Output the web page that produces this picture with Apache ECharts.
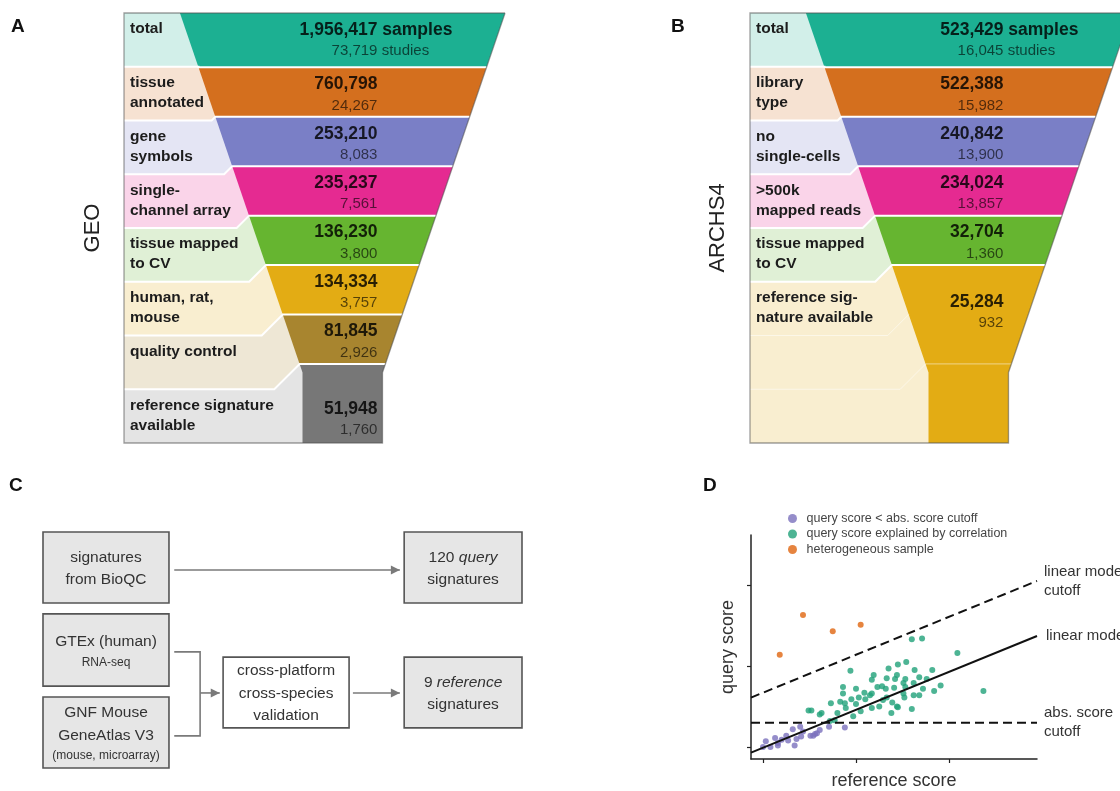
<!DOCTYPE html>
<html>
<head>
<meta charset="utf-8">
<script src="https://cdn.jsdelivr.net/npm/echarts@6/dist/echarts.min.js"></script>
<style>
  html, body { margin: 0; padding: 0; background: #fff; }
  #chart { width: 1120px; height: 791px; }
</style>
</head>
<body>
<div id="chart"></div>
<script>
// ---------- A: GEO sample filtering ----------
const geoStages = ['total', 'tissue\nannotated', 'gene\nsymbols', 'single-\nchannel array',
  'tissue mapped\nto CV', 'human, rat,\nmouse', 'quality control', 'reference signature\navailable'];
const geoSamples = [1956417, 760798, 253210, 235237, 136230, 134334, 81845, 51948];
const geoStudies = [73719, 24267, 8083, 7561, 3800, 3757, 2926, 1760];

// ---------- B: ARCHS4 sample filtering ----------
const archsStages = ['total', 'library\ntype', 'no\nsingle-cells', '>500k\nmapped reads',
  'tissue mapped\nto CV', 'reference sig-\nnature available'];
const archsSamples = [523429, 522388, 240842, 234024, 32704, 25284];
const archsStudies = [16045, 15982, 13900, 13857, 1360, 932];

const geoColors = ['#1cb092', '#d46f1e', '#7a7fc6', '#e52a91', '#66b530', '#e3ac14', '#a8852f', '#777777'];
const archsColors = ['#1cb092', '#d46f1e', '#7a7fc6', '#e52a91', '#66b530', '#e3ac14'];

// ---------- C: signature sources ----------
const flowTexts = [
  '{t|signatures}\n{t|from BioQC}',
  '{t|GTEx (human)}\n{s|RNA-seq}',
  '{t|GNF Mouse}\n{t|GeneAtlas V3}\n{s|(mouse, microarray)}',
  '{t|cross-platform}\n{t|cross-species}\n{t|validation}',
  '{t|120 }{i|query}\n{t|signatures}',
  '{t|9 }{i|reference}\n{t|signatures}'
];

// ---------- D: query vs reference score ----------
const belowCutoff = [[0.00,0.00],[0.03,0.07],[0.08,0.00],[0.13,0.11],[0.16,0.02],[0.16,0.05],[0.20,0.09],
  [0.25,0.14],[0.27,0.08],[0.34,0.02],[0.32,0.22],[0.36,0.10],[0.40,0.25],[0.41,0.13],[0.43,0.19],
  [0.51,0.14],[0.54,0.14],[0.56,0.16],[0.58,0.17],[0.61,0.21],[0.71,0.25],[0.88,0.24]];
const explainedByCorr = [[1.60,1.33],[1.71,1.34],[2.09,1.16],[0.94,0.94],[1.35,0.97],[1.45,1.02],[1.54,1.05],
  [1.63,0.95],[1.82,0.95],[1.44,0.89],[1.19,0.89],[1.17,0.83],[1.33,0.85],[1.42,0.84],[1.53,0.84],
  [1.68,0.86],[0.86,0.74],[1.00,0.72],[1.23,0.74],[1.28,0.75],[1.32,0.72],[1.41,0.73],[1.53,0.74],
  [1.62,0.79],[1.72,0.72],[1.91,0.76],[1.84,0.69],[1.62,0.64],[1.68,0.64],[1.51,0.66],[1.09,0.67],
  [0.86,0.66],[1.17,0.66],[0.73,0.54],[0.83,0.56],[0.89,0.48],[0.95,0.59],[1.00,0.53],[1.03,0.61],
  [1.10,0.59],[1.15,0.64],[1.05,0.44],[1.17,0.48],[1.25,0.50],[1.29,0.58],[1.33,0.61],[1.39,0.55],
  [1.44,0.50],[1.52,0.61],[1.60,0.47],[1.38,0.42],[0.97,0.38],[0.49,0.45],[0.52,0.45],[0.61,0.40],
  [0.63,0.42],[0.80,0.42],[0.72,0.32],[2.37,0.69],[1.76,0.84],[1.51,0.79],[1.45,0.49],[0.88,0.54],[0.77,0.33]];
const heterogeneous = [[0.18,1.14],[0.43,1.63],[0.75,1.43],[1.05,1.51]];
const linearModel = [[-0.129,-0.07],[2.946,1.37]];
const linearModelCutoff = [[-0.129,0.61],[2.946,2.05]];
const absScoreCutoff = [[-0.129,0.30],[2.946,0.30]];

// ---------- layout ----------
const FONT = '"Liberation Sans", Arial, Helvetica, sans-serif';
const SLOTS = 8;               // vertical rows shared by both funnels
const Y_MIN = -0.1, Y_MAX = 8.6;

// diagram boxes in percent of panel C: [x0, y0, x1, y1]
const flowBoxes = [[0,0,26.3,30.1],[0,34.7,26.3,65.3],[0,69.9,26.3,100],
  [37.6,53,63.9,83],[75.4,0,100,30.1],[75.4,53,100,83]];
const flowLinks = [
  { path: [[27.4,16.1],[74.5,16.1]], arrow: true },
  { path: [[27.4,50.8],[32.8,50.8],[32.8,86.4],[27.4,86.4]], arrow: false },
  { path: [[32.8,68.2],[36.9,68.2]], arrow: true },
  { path: [[64.7,68.2],[74.5,68.2]], arrow: true }
];

function tint(hex, a) {
  const n = parseInt(hex.slice(1), 16);
  const c = [(n >> 16) & 255, (n >> 8) & 255, n & 255].map(v => Math.round(255 - (255 - v) * a));
  return 'rgb(' + c.join(',') + ')';
}
const fmt = v => v.toLocaleString('en-US');

function funnelRenderer(stages, samples, studies, colors) {
  const n = stages.length;
  return function (params, api) {
    const s = api.value(0);
    const last = s === n - 1;
    const L = api.coord([-1, Y_MIN])[0];
    const cx = api.coord([0, Y_MIN])[0];
    const unit = cx - L;
    const top = api.coord([0, Y_MIN])[1];
    const bottom = api.coord([0, Y_MAX])[1];
    const paleStep = (bottom - top) / SLOTS;
    const hwTop = 0.744 * unit, hwMin = 0.183 * unit, taper = 0.341;
    const hw = y => Math.max(hwMin, hwTop - taper * (y - top));
    const yKink = top + (hwTop - hwMin) / taper;
    const fy = k => k <= 0 ? top : (k >= SLOTS ? bottom : api.coord([0, k])[1]);
    const py = k => top + k * paleStep;
    const boundary = k => {
      const yf = fy(k), yp = py(k), xf = cx - hw(yf), d = Math.max(0, yp - yf);
      return [[L, yp], [xf - d, yp], [xf, yf]];
    };
    const k0 = s, k1 = last ? SLOTS : s + 1;
    const y0 = fy(k0), y1 = fy(k1);

    // funnel slice
    const fp = [[cx - hw(y0), y0], [cx + hw(y0), y0]];
    const kinked = yKink > y0 && yKink < y1;
    if (kinked) fp.push([cx + hwMin, yKink]);
    fp.push([cx + hw(y1), y1], [cx - hw(y1), y1]);
    if (kinked) fp.push([cx - hwMin, yKink]);

    // pale label band
    const topLine = k0 === 0 ? [[L, top], [cx, top]] : boundary(k0).concat([[cx, y0]]);
    const botLine = k1 === SLOTS ? [[L, bottom], [cx, bottom]] : boundary(k1).concat([[cx, y1]]);
    const pp = topLine.concat(botLine.slice().reverse());

    const children = [
      { type: 'polygon', shape: { points: pp }, style: { fill: tint(colors[s], 0.2) } },
      { type: 'polygon', shape: { points: fp }, style: { fill: colors[s] } }
    ];
    if (k0 > 0) {
      children.push({ type: 'polyline', shape: { points: boundary(k0).concat([[cx + hw(y0), y0]]) },
        style: { stroke: '#fff', lineWidth: 2, fill: null } });
    }
    // faint row rules inside a stage spanning several rows
    for (let k = k0 + 1; k < k1; k++) {
      const yf = fy(k);
      const pts = boundary(k);
      if (k === SLOTS - 1) pts.push([cx + hw(yf), yf]);
      children.push({ type: 'polyline', shape: { points: pts },
        style: { stroke: 'rgba(255,255,255,0.5)', lineWidth: 1, fill: null } });
    }
    // texts
    const tx = cx + 0.16 * unit;
    const yN = last ? py(k0) + 20 : y0 + 17;
    children.push(
      { type: 'text', style: { text: stages[s], x: L + 6, y: py(k0) + 6, align: 'left', verticalAlign: 'top',
        lineHeight: 20, font: 'bold 15.5px ' + FONT, fill: '#1c1c1c' } },
      { type: 'text', style: { text: fmt(samples[s]), x: tx, y: yN, align: 'right', verticalAlign: 'middle',
        font: 'bold 17.5px ' + FONT, fill: 'rgba(0,0,0,0.82)' } },
      { type: 'text', style: { text: fmt(studies[s]), x: tx, y: yN + 21, align: 'right', verticalAlign: 'middle',
        font: '15px ' + FONT, fill: 'rgba(0,0,0,0.62)' } }
    );
    if (s === 0) {
      children.push(
        { type: 'text', style: { text: ' samples', x: tx, y: yN, align: 'left', verticalAlign: 'middle',
          font: 'bold 17.5px ' + FONT, fill: 'rgba(0,0,0,0.82)' } },
        { type: 'text', style: { text: ' studies', x: tx, y: yN + 21, align: 'left', verticalAlign: 'middle',
          font: '15px ' + FONT, fill: 'rgba(0,0,0,0.62)' } }
      );
    }
    if (last) {
      children.push({ type: 'polyline', shape: { points: [[cx + hw(top), top], [L, top], [L, bottom],
        [cx + hwMin, bottom], [cx + hwMin, yKink], [cx + hw(top), top]] },
        style: { stroke: 'rgba(80,80,80,0.55)', lineWidth: 1.3, fill: null } });
    }
    return { type: 'group', children };
  };
}

function hiddenAxis(grid, min, max, extra) {
  return Object.assign({ gridIndex: grid, type: 'value', min, max, show: false }, extra || {});
}
function nameAxis(grid, name, gap) {
  return {
    gridIndex: grid, type: 'value', min: Y_MIN, max: Y_MAX, inverse: true,
    axisLine: { show: false }, axisTick: { show: false }, axisLabel: { show: false }, splitLine: { show: false },
    name, nameLocation: 'middle', nameGap: gap,
    nameTextStyle: { fontSize: 22, color: '#222', fontFamily: FONT }
  };
}

const chart = echarts.init(document.getElementById('chart'), null, { renderer: 'canvas' });
const letter = (t, l, tp) => ({ text: t, left: l, top: tp, padding: 0,
  textStyle: { fontSize: 19, fontWeight: 'bold', color: '#111', fontFamily: FONT } });

chart.setOption({
  animation: false,
  backgroundColor: '#fff',
  title: [letter('A', 11, 17), letter('B', 671, 17), letter('C', 9, 476), letter('D', 703, 476)],
  grid: [
    { left: 124, top: 13, width: 437, height: 430 },
    { left: 750, top: 13, width: 370, height: 430 },
    { left: 43, top: 532, width: 479, height: 236 },
    { left: 751, top: 535, width: 286, height: 224 }
  ],
  xAxis: [
    hiddenAxis(0, -1, 1),
    hiddenAxis(1, -1, -1 + 370 / 218.5),
    hiddenAxis(2, 0, 100),
    {
      gridIndex: 3, type: 'value', min: -0.129, max: 2.946,
      axisLine: { onZero: false, lineStyle: { color: '#222', width: 1.5 } },
      axisTick: { show: true, length: 4, customValues: [0, 1, 2], lineStyle: { color: '#222', width: 1.2 } },
      axisLabel: { show: false }, splitLine: { show: false },
      name: 'reference score', nameLocation: 'middle', nameGap: 13,
      nameTextStyle: { fontSize: 18, color: '#333', fontFamily: FONT }
    }
  ],
  yAxis: [
    nameAxis(0, 'GEO', 20),
    nameAxis(1, 'ARCHS4', 21),
    hiddenAxis(2, 0, 100, { inverse: true }),
    {
      gridIndex: 3, type: 'value', min: -0.148, max: 2.617,
      axisLine: { onZero: false, lineStyle: { color: '#222', width: 1.5 } },
      axisTick: { show: true, length: 4, customValues: [0, 1, 2], lineStyle: { color: '#222', width: 1.2 } },
      axisLabel: { show: false }, splitLine: { show: false },
      name: 'query score', nameLocation: 'middle', nameGap: 14,
      nameTextStyle: { fontSize: 18, color: '#333', fontFamily: FONT }
    }
  ],
  legend: {
    data: ['query score < abs. score cutoff', 'query score explained by correlation', 'heterogeneous sample'],
    orient: 'vertical', left: 783, top: 507, itemWidth: 18, itemHeight: 9, itemGap: 2.5, icon: 'circle',
    textStyle: { fontSize: 12.5, color: '#444', fontFamily: FONT }, selectedMode: false
  },
  series: [
    {
      type: 'custom', xAxisIndex: 0, yAxisIndex: 0,
      data: geoSamples.map((v, i) => [i, v, geoStudies[i]]),
      renderItem: funnelRenderer(geoStages, geoSamples, geoStudies, geoColors)
    },
    {
      type: 'custom', xAxisIndex: 1, yAxisIndex: 1,
      data: archsSamples.map((v, i) => [i, v, archsStudies[i]]),
      renderItem: funnelRenderer(archsStages, archsSamples, archsStudies, archsColors)
    },
    {
      type: 'custom', xAxisIndex: 2, yAxisIndex: 2,
      data: flowLinks.map((_, i) => [i]),
      renderItem(params, api) {
        const link = flowLinks[api.value(0)];
        const pts = link.path.map(p => api.coord(p));
        const children = [{ type: 'polyline', shape: { points: pts }, style: { stroke: '#7a7a7a', lineWidth: 1.6, fill: null } }];
        if (link.arrow) {
          const [x, y] = pts[pts.length - 1];
          children.push({ type: 'polygon', shape: { points: [[x, y], [x - 9, y - 4.5], [x - 9, y + 4.5]] }, style: { fill: '#7a7a7a' } });
        }
        return { type: 'group', children };
      }
    },
    {
      type: 'custom', xAxisIndex: 2, yAxisIndex: 2,
      data: flowTexts.map((_, i) => [i]),
      renderItem(params, api) {
        const i = api.value(0);
        const b = flowBoxes[i];
        const p0 = api.coord([b[0], b[1]]), p1 = api.coord([b[2], b[3]]);
        return {
          type: 'group', children: [
            { type: 'rect', shape: { x: p0[0], y: p0[1], width: p1[0] - p0[0], height: p1[1] - p0[1] },
              style: { fill: i === 3 ? '#ffffff' : '#e6e6e6', stroke: '#555', lineWidth: 1.6 } },
            { type: 'text', style: {
              text: flowTexts[i], x: (p0[0] + p1[0]) / 2, y: (p0[1] + p1[1]) / 2 + 1,
              align: 'center', verticalAlign: 'middle', fill: '#333',
              rich: {
                t: { fontSize: 15.5, fontFamily: FONT, lineHeight: 22.5, fill: '#333', color: '#333' },
                i: { fontSize: 15.5, fontFamily: FONT, fontStyle: 'italic', lineHeight: 22.5, fill: '#333', color: '#333' },
                s: { fontSize: 12, fontFamily: FONT, lineHeight: 19, fill: '#333', color: '#333' }
              } } }
          ]
        };
      }
    },
    {
      name: 'query score < abs. score cutoff', type: 'scatter', xAxisIndex: 3, yAxisIndex: 3,
      data: belowCutoff, symbolSize: 6, itemStyle: { color: '#7b70bd' }
    },
    {
      name: 'query score explained by correlation', type: 'scatter', xAxisIndex: 3, yAxisIndex: 3,
      data: explainedByCorr, symbolSize: 6, itemStyle: { color: '#20a179' }
    },
    {
      name: 'heterogeneous sample', type: 'scatter', xAxisIndex: 3, yAxisIndex: 3,
      data: heterogeneous, symbolSize: 6, itemStyle: { color: '#e0650f' }
    },
    {
      type: 'line', xAxisIndex: 3, yAxisIndex: 3, data: linearModelCutoff, symbol: 'none',
      lineStyle: { color: '#111', width: 2, type: [9, 5] },
      endLabel: { show: true, formatter: 'linear model\ncutoff', distance: 7, fontSize: 15, lineHeight: 19, color: '#333', fontFamily: FONT }
    },
    {
      type: 'line', xAxisIndex: 3, yAxisIndex: 3, data: linearModel, symbol: 'none',
      lineStyle: { color: '#111', width: 2 },
      endLabel: { show: true, formatter: 'linear model', distance: 9, fontSize: 15, color: '#333', fontFamily: FONT }
    },
    {
      type: 'line', xAxisIndex: 3, yAxisIndex: 3, data: absScoreCutoff, symbol: 'none',
      lineStyle: { color: '#111', width: 2, type: [9, 5] },
      endLabel: { show: true, formatter: 'abs. score\ncutoff', distance: 7, fontSize: 15, lineHeight: 19, color: '#333', fontFamily: FONT }
    }
  ]
});
</script>
</body>
</html>
